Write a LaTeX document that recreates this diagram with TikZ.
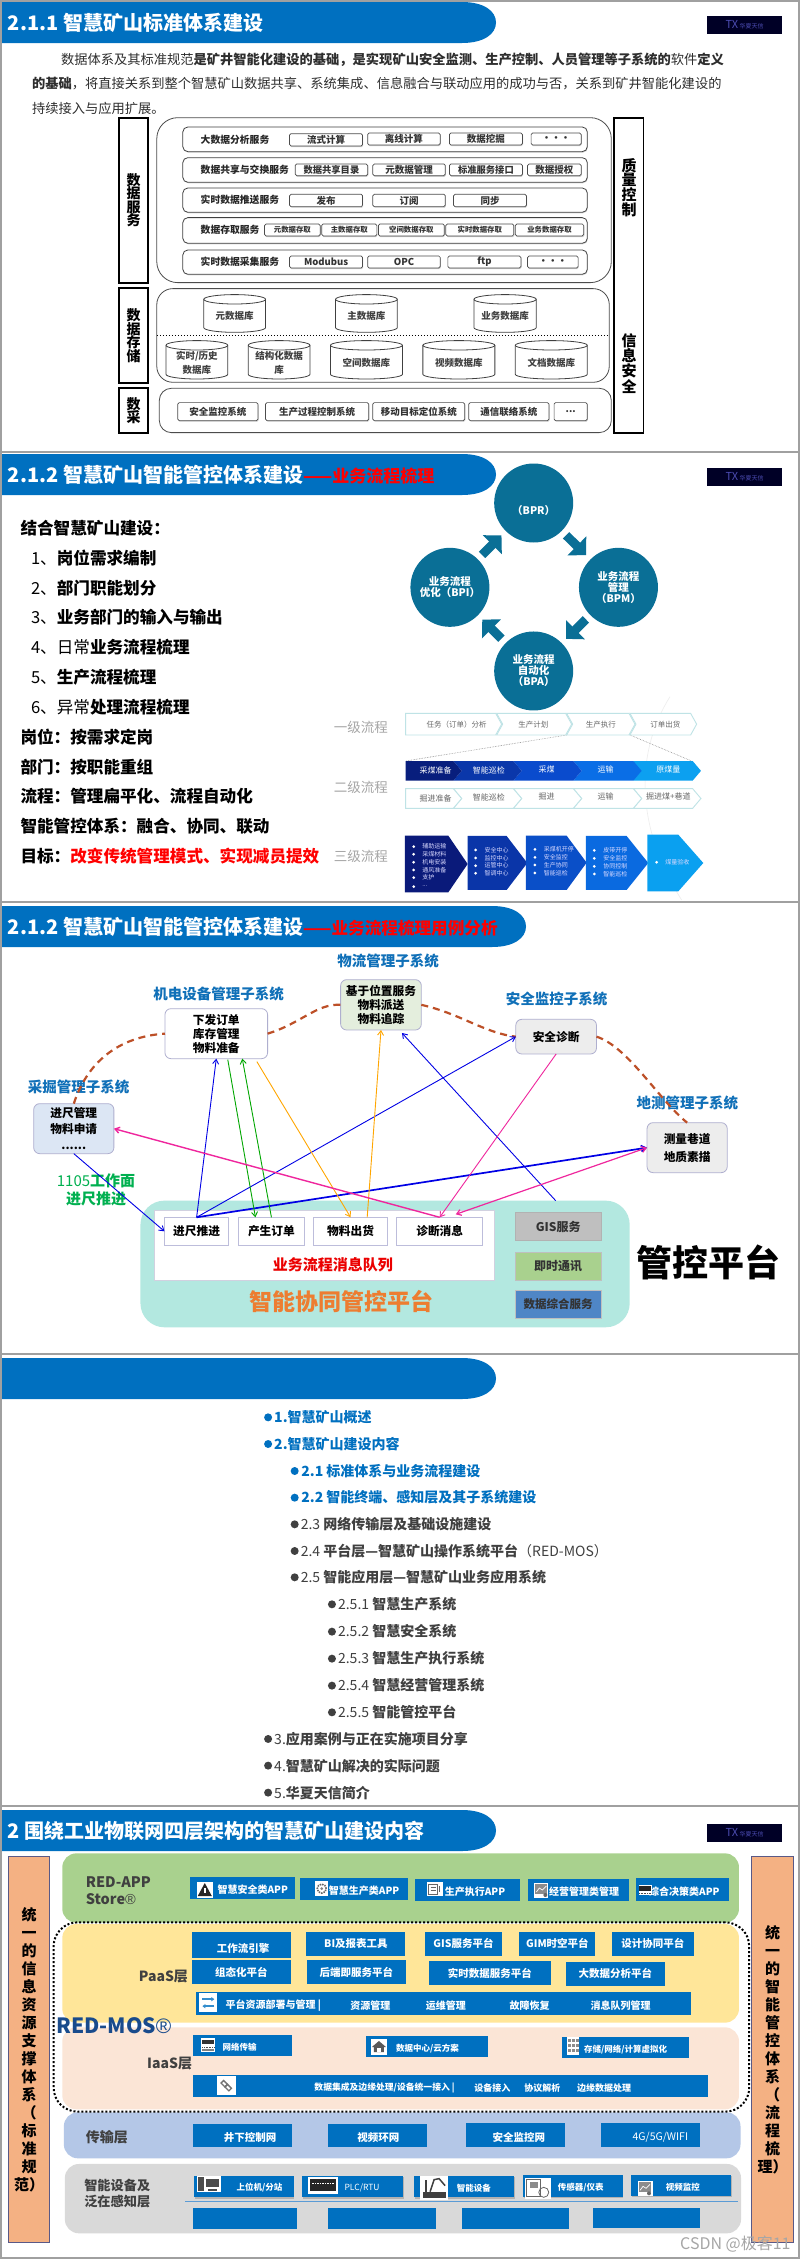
\documentclass[tikz,border=0pt]{standalone}
\usepackage{fontspec}
\setmainfont{Noto Sans CJK SC}
\newfontfamily\regf{Liberation Sans}
\usetikzlibrary{arrows.meta,shapes.geometric,shadows,calc}
\definecolor{bann}{HTML}{0070C0}
\definecolor{teal1}{HTML}{0A6F96}
\definecolor{lblblue}{HTML}{1070B8}
\definecolor{frameg}{HTML}{A0A0A0}
\definecolor{flowb}{HTML}{BFE3E6}
\newcommand\fs[2]{\fontsize{#1}{#2}\selectfont}
\newcommand\regm{{\regf\mdseries ®}}
\newcounter{nn}
\def\sx{0.5107}\def\sy{0.3333}
% box from corner to corner, in the scope's coordinates
\newcommand\bx[6][]{\stepcounter{nn}%
 \pgfmathsetmacro\bw{abs(#4-#2)*\sx}\pgfmathsetmacro\bh{abs(#5-#3)*\sy}%
 \node[name=n\thenn,minimum width=\bw pt,minimum height=\bh pt,inner sep=0pt,outer sep=0pt,align=center,#1] at ({(#2+#4)/2},{(#3+#5)/2}) {#6};}
\newcommand\tx[4][]{\stepcounter{nn}\node[name=n\thenn,inner sep=0pt,outer sep=0pt,align=center,#1] at (#2,#3) {#4};}
% cylinder drawn directly, with its text as a node
\newcommand\cyl[5]{\pgfmathsetmacro\crx{(#3-#1)/2*\sx}%
 \path[draw=black!75,line width=.8pt,fill=white] (#1,#2+14) -- (#1,#4-14) arc[start angle=180,end angle=360,x radius=\crx pt,y radius=4.7pt] -- (#3,#2+14) arc[start angle=0,end angle=180,x radius=\crx pt,y radius=4.7pt] -- cycle;
 \draw[black!75,line width=.8pt] (#1,#2+14) arc[start angle=180,end angle=360,x radius=\crx pt,y radius=4.7pt];
 \tx[font=\fs{9.5}{14}\bfseries,text=black!75]{{(#1+#3)/2}}{{(#2+#4)/2+8}}{#5}}
% banner in px
\newcommand\banner[4]{\fill[bann] (1,#1)--(#3-34,#1) .. controls (#3-12,#1) and (#3,#1+9) .. (#3,{(#1+#2)/2}) .. controls (#3,#2-9) and (#3-12,#2) .. (#3-34,#2)--(1,#2)--cycle;
 \tx[anchor=west,text=white,font=\fs{20}{24}\bfseries]{8}{{(#1+#2)/2}}{#4}}
\newcommand\logo[1]{\stepcounter{nn}\node[name=n\thenn,fill=black!85!blue,minimum width=75pt,minimum height=18pt,inner sep=0pt,text=blue!40!gray,font=\fs{6}{6}] at (744.5,#1) {\textit{\fs{11}{11}TX}\ 华夏天信};}
% chevron; notch depth #5, point depth #6
\newcommand\chev[7]{\path[#7] (#1,#3)--(#2-#6,#3)--(#2,{(#3+#4)/2})--(#2-#6,#4)--(#1,#4)--(#1+#5,{(#3+#4)/2})--cycle;}
% small pictogram, local px units
\newcommand\ico[5]{\begin{scope}[shift={(#1,#2)},x=1pt,y=-1pt]\fill[white] ({-#3/2},{-#4/2}) rectangle ({#3/2},{#4/2});#5\end{scope}}
\tikzset{
 blk/.style={draw=black,line width=1.8pt,fill=white,font=\fs{14}{13.5}\bfseries},
 bigr/.style={draw=black!70,line width=.8pt,rounded corners=21pt},
 rowr/.style={draw=black!75,line width=.8pt,fill=white,rounded corners=5pt,drop shadow={shadow xshift=.6pt,shadow yshift=-1pt,fill=black!30}},
 chip/.style={draw=black!70,line width=.7pt,fill=white,rounded corners=1.5pt,font=\fs{9.5}{11}\bfseries,text=black!80,drop shadow={shadow xshift=.6pt,shadow yshift=-1.2pt,fill=black!35}},
 lay/.style={rounded corners=14pt},
 btn/.style={fill=bann,text=white,font=\fs{10.5}{12}\bfseries},
 sbtn/.style={fill=bann,text=white,drop shadow={shadow xshift=.8pt,shadow yshift=-1.2pt,fill=black!45}},
 sub/.style={font=\fs{14.5}{17}\bfseries,text=lblblue},
 subsys/.style={draw=blue!25!gray!50,line width=.8pt,rounded corners=6pt,font=\fs{11.7}{14}\bfseries},
 msg/.style={draw=blue!30!gray!40,line width=.9pt,fill=white,font=\fs{11.7}{14}\bfseries},
 svc/.style={font=\fs{12}{14}\bfseries,text=black!80},
 barb/.style={-{Straight Barb[length=4.5pt,width=6pt]},line width=.9pt},
 dashbrown/.style={draw=brown!70!red!90!black,line width=2.2pt,dash pattern=on 7pt off 5pt},
 blist/.style={anchor=west,font=\fs{14}{16}\bfseries,text=bann},
 glist/.style={anchor=west,font=\fs{14}{16},text=black!75},
 chw/.style={draw=flowb,line width=.9pt,fill=white},
 flab/.style={font=\fs{7.5}{9},text=black!60},
 fwhite/.style={font=\fs{8}{9},text=white},
 flvl/.style={font=\fs{13.5}{15},text=black!35},
 lbul/.style={font=\fs{6}{7},text=white!85!blue,anchor=west},
 bodyt/.style={anchor=west,font=\fs{13.26}{16},text=black!82},
 listt/.style={anchor=west,font=\fs{16.6}{20}\bfseries,text=black},
 zs/.style={yshift=-#1pt,x=0.5107pt,y=-0.3333pt},
 circ/.style={circle,fill=teal1,minimum size=79pt,inner sep=0pt,text=white,align=center,font=\fs{10.5}{11}\bfseries},
 barrow/.style={draw=teal1,line width=9pt,shorten <=6pt,shorten >=6pt,-{Triangle[length=13pt,width=26pt]}},
}
\begin{document}
\begin{tikzpicture}[x=1pt,y=-1pt]
\useasboundingbox (0,0) rectangle (800,2259);
\fill[white] (0,0) rectangle (800,2259);

% ================ panel 1
\banner{2}{43}{496}{2.1.1 智慧矿山标准体系建设}
\logo{25}
\tx[bodyt]{61}{60}{数据体系及其标准规范\textbf{是矿井智能化建设的基础，是实现矿山安全监测、生产控制、人员管理等子系统的}软件\textbf{定义}}
\tx[bodyt]{32}{84}{\textbf{的基础}，将直接关系到整个智慧矿山数据共享、系统集成、信息融合与联动应用的成功与否，关系到矿井智能化建设的}
\tx[bodyt]{32}{108}{持续接入与应用扩展。}
\begin{scope}[zs=0]
\bx[blk]{233}{353}{290}{848}{数\\据\\服\\务}
\bx[blk]{233}{865}{290}{1148}{数\\据\\存\\储}
\bx[blk]{233}{1165}{290}{1298}{数\\采}
\bx[blk]{1203}{353}{1260}{1298}{}
\tx[font=\fs{15}{13.5}\bfseries]{1232}{563}{质\\量\\控\\制}
\tx[font=\fs{15}{13.5}\bfseries]{1232}{1090}{信\\息\\安\\全}
\bx[bigr]{307}{353}{1197}{848}{}
\bx[bigr,rounded corners=16pt]{307}{866}{1193}{1147}{}
\bx[bigr,rounded corners=12pt]{312}{1165}{1197}{1298}{}
\draw[line width=1pt,dotted] (307,1007)--(1193,1007);
\bx[rowr]{358}{381}{1150}{455}{}
\bx[rowr]{358}{473}{1150}{547}{}
\bx[rowr]{358}{564}{1150}{637}{}
\bx[rowr]{358}{653}{1150}{730}{}
\bx[rowr]{358}{750}{1150}{823}{}
\def\rl#1#2{\tx[anchor=west,font=\fs{9.8}{11}\bfseries,text=black!85]{393}{#1}{#2}}
\rl{418}{大数据分析服务}\rl{510}{数据共享与交换服务}\rl{600}{实时数据推送服务}\rl{690}{数据存取服务}\rl{786}{实时数据采集服务}
\bx[chip]{567}{401}{710}{438}{流式计算}
\bx[chip]{720}{399}{862}{435}{离线计算}
\bx[chip]{880}{399}{1023}{435}{数据挖掘}
\bx[chip]{1040}{399}{1138}{435}{•••}
\bx[chip,font=\fs{9.3}{11}\bfseries]{578}{492}{720}{527}{数据共享目录}
\bx[chip]{730}{492}{872}{527}{元数据管理}
\bx[chip,font=\fs{9.3}{11}\bfseries]{880}{492}{1023}{527}{标准服务接口}
\bx[chip]{1033}{492}{1138}{527}{数据授权}
\bx[chip]{567}{583}{710}{620}{发布}
\bx[chip]{730}{583}{872}{620}{订阅}
\bx[chip]{888}{583}{1031}{620}{同步}
\bx[chip,font=\fs{7.4}{9}\bfseries]{518}{672}{627}{708}{元数据存取}
\bx[chip,font=\fs{7.4}{9}\bfseries]{630}{672}{738}{708}{主数据存取}
\bx[chip,font=\fs{7.4}{9}\bfseries]{741}{672}{870}{708}{空间数据存取}
\bx[chip,font=\fs{7.4}{9}\bfseries]{873}{672}{1006}{708}{实时数据存取}
\bx[chip,font=\fs{7.4}{9}\bfseries]{1009}{672}{1143}{708}{业务数据存取}
\bx[chip]{567}{768}{710}{804}{Modubus}
\bx[chip]{720}{768}{862}{804}{OPC}
\bx[chip]{877}{768}{1020}{804}{ftp}
\bx[chip]{1033}{768}{1132}{804}{•••}
\cyl{399}{884}{520}{997}{元数据库}
\cyl{657}{884}{778}{997}{主数据库}
\cyl{928}{884}{1050}{997}{业务数据库}
\cyl{325}{1022}{446}{1137}{实时/历史\\数据库}
\cyl{486}{1022}{607}{1137}{结构化数据\\库}
\cyl{647}{1022}{788}{1137}{空间数据库}
\cyl{828}{1022}{969}{1137}{视频数据库}
\cyl{1009}{1022}{1150}{1137}{文档数据库}
\bx[chip]{348}{1208}{505}{1262}{安全监控系统}
\bx[chip]{520}{1208}{722}{1262}{生产过程控制系统}
\bx[chip]{730}{1208}{910}{1262}{移动目标定位系统}
\bx[chip]{918}{1208}{1075}{1262}{通信联络系统}
\bx[chip]{1085}{1208}{1150}{1262}{...}
\end{scope}

% ================ panel 2
\banner{454}{495}{496}{2.1.2 智慧矿山智能管控体系建设{\color{red}\fs{17}{20}——业务流程梳理}}
\logo{477}
\def\ll#1#2#3{\tx[listt]{#1}{#2}{#3}}
\ll{20.5}{528}{结合智慧矿山建设：}
\ll{31}{558}{\mdseries 1、\bfseries 岗位需求编制}
\ll{31}{588}{\mdseries 2、\bfseries 部门职能划分}
\ll{31}{617}{\mdseries 3、\bfseries 业务部门的输入与输出}
\ll{31}{647}{\mdseries 4、日常\bfseries 业务流程梳理}
\ll{31}{677}{\mdseries 5、\bfseries 生产流程梳理}
\ll{31}{707}{\mdseries 6、异常\bfseries 处理流程梳理}
\ll{20.5}{737}{岗位：按需求定岗}
\ll{20.5}{767}{部门：按职能重组}
\ll{20.5}{796}{流程：管理扁平化、流程自动化}
\ll{20.5}{826}{智能管控体系：融合、协同、联动}
\ll{20.5}{856}{目标：{\color{red}改变传统管理模式、实现减员提效}}
\begin{scope}[zs=450]
\node[circ,name=bpr] at (1045,159) {\\[14pt]（BPR）};
\node[circ,name=bpm] at (1211,412) {业务流程\\管理\\（BPM）};
\node[circ,name=bpa] at (1045,663) {业务流程\\自动化\\（BPA）};
\node[circ,name=bpi] at (881,412) {业务流程\\优化（BPI）};
\draw[barrow] (bpr)--(bpm);
\draw[barrow] (bpm)--(bpa);
\draw[barrow] (bpa)--(bpi);
\draw[barrow] (bpi)--(bpr);
\end{scope}
\begin{scope}[yshift=-690pt,xshift=320pt,x=0.3333pt,y=-0.3333pt]
\def\sx{0.3333}
\draw[black!7,line width=.6pt] (1050,20) .. controls (950,180) and (940,400) .. (1085,630);
\tx[flvl]{123}{112}{一级流程}
\tx[flvl]{123}{292}{二级流程}
\tx[flvl]{123}{500}{三级流程}
\draw[black!45,densely dotted,line width=.6pt] (740,135)--(257,213);
\draw[black!45,densely dotted,line width=.6pt] (930,135)--(1115,213);
\chev{930}{1130}{70}{135}{18}{18}{chw}
\chev{740}{945}{70}{135}{18}{18}{chw}
\chev{530}{755}{70}{135}{18}{18}{chw}
\chev{257}{545}{70}{135}{0}{18}{chw}
\tx[flab]{410}{103}{任务（订单）分析}
\tx[flab]{640}{103}{生产计划}
\tx[flab]{843}{103}{生产执行}
\tx[flab]{1036}{103}{订单出货}
\chev{940}{1143}{213}{272}{0}{25}{fill={rgb,255:red,12;green,160;blue,240}}
\chev{760}{965}{213}{272}{25}{25}{fill={rgb,255:red,10;green,110;blue,230}}
\chev{580}{785}{213}{272}{25}{25}{fill={rgb,255:red,10;green,75;blue,205}}
\chev{400}{605}{213}{272}{25}{25}{fill={rgb,255:red,10;green,55;blue,170}}
\chev{257}{425}{213}{272}{0}{25}{fill={rgb,255:red,8;green,30;blue,125}}
\tx[fwhite]{347}{241}{采煤准备}
\tx[fwhite]{507}{240}{智能巡检}
\tx[fwhite]{680}{238}{采煤}
\tx[fwhite]{857}{238}{运输}
\tx[fwhite]{1045}{237}{原煤量}
\chev{940}{1143}{296}{355}{25}{25}{chw}
\chev{760}{965}{296}{355}{25}{25}{chw}
\chev{580}{785}{296}{355}{25}{25}{chw}
\chev{400}{605}{296}{355}{25}{25}{chw}
\chev{257}{425}{296}{355}{0}{25}{chw}
\tx[flab,font=\fs{8}{9}]{347}{324}{掘进准备}
\tx[flab,font=\fs{8}{9}]{507}{322}{智能巡检}
\tx[flab,font=\fs{8}{9}]{680}{320}{掘进}
\tx[flab,font=\fs{8}{9}]{857}{320}{运输}
\tx[flab,font=\fs{8}{9}]{1045}{319}{掘进煤+巷道}
\path[fill={rgb,255:red,10;green,26;blue,122}] (255,437)--(385,437)--(443,522)--(385,607)--(255,607)--cycle;
\path[fill={rgb,255:red,10;green,53;blue,168}] (443,438)--(560,438)--(622,519)--(560,600)--(443,600)--cycle;
\path[fill={rgb,255:red,10;green,79;blue,200}] (618,437)--(740,437)--(800,518)--(740,600)--(618,600)--cycle;
\path[fill={rgb,255:red,10;green,106;blue,224}] (798,438)--(920,438)--(985,519)--(920,600)--(798,600)--cycle;
\path[fill={rgb,255:red,10;green,160;blue,240}] (982,434)--(1075,434)--(1150,519)--(1075,604)--(982,604)--cycle;
\def\lit#1#2#3#4{\fill[white] (#1,#3) circle[radius=1.5pt];\tx[lbul]{#2}{#3}{#4}}
\lit{281}{307}{470}{辅助运输}\lit{281}{307}{493}{采煤材料}\lit{281}{307}{517}{机电安装}\lit{281}{307}{540}{通风准备}\lit{281}{307}{563}{支护}\lit{281}{307}{590}{...}
\lit{467}{494}{480}{安全中心}\lit{467}{494}{504}{监控中心}\lit{467}{494}{527}{运管中心}\lit{467}{494}{550}{智调中心}
\lit{645}{672}{478}{采煤机开停}\lit{645}{672}{502}{安全监控}\lit{645}{672}{525}{生产协同}\lit{645}{672}{549}{智能巡检}
\lit{823}{850}{481}{皮带开停}\lit{823}{850}{505}{安全监控}\lit{823}{850}{529}{协同控制}\lit{823}{850}{552}{智能巡检}
\lit{1010}{1036}{517}{煤量验收}
\def\sx{0.5107}
\end{scope}

% ================ panel 3
\banner{906}{947}{526}{2.1.2 智慧矿山智能管控体系建设{\color{red}\fs{16.6}{20}——业务流程梳理用例分析}}
\begin{scope}[zs=900]
\tx[sub]{760}{183}{物流管理子系统}
\tx[sub]{428}{282}{机电设备管理子系统}
\tx[sub]{1090}{298}{安全监控子系统}
\tx[sub]{154}{562}{采掘管理子系统}
\tx[sub]{1346}{608}{地测管理子系统}
\bx[name=pf,fill={rgb,255:red,179;green,232;blue,224},rounded corners=24pt]{275}{902}{1233}{1282}{}
\bx[fill=white,draw=blue!20!gray!30,line width=.8pt]{303}{932}{968}{1142}{}
\bx[subsys,name=jd,fill=white]{323}{326}{524}{476}{下发订单\\库存管理\\物料准备}
\bx[subsys,name=wl,fill={rgb,255:red,228;green,238;blue,221}]{667}{239}{825}{390}{基于位置服务\\物料派送\\物料追踪}
\bx[subsys,name=aq,fill=black!7]{1010}{358}{1168}{462}{安全诊断}
\bx[subsys,name=cj,fill={rgb,255:red,220;green,230;blue,244},font=\fs{11.7}{16}\bfseries]{66}{611}{223}{761}{进尺管理\\物料申请\\......}
\bx[subsys,name=dc,fill=black!7,font=\fs{11.7}{18}\bfseries]{1267}{668}{1424}{818}{测量巷道\\地质素描}
\bx[msg,name=jc]{322}{952}{448}{1036}{进尺推进}
\bx[msg,name=cs]{467}{952}{596}{1036}{产生订单}
\bx[msg,name=wc]{614}{952}{759}{1036}{物料出货}
\bx[msg,name=zd]{777}{952}{945}{1036}{诊断消息}
\tx[font=\fs{15}{17}\bfseries,text=red!92!black]{652}{1093}{业务流程消息队列}
\tx[font=\fs{23}{26}\bfseries,text={rgb,255:red,237;green,125;blue,49}]{668}{1205}{智能协同管控平台}
\bx[svc,fill=black!25,draw=black!30]{1009}{938}{1177}{1022}{GIS服务}
\bx[svc,fill={rgb,255:red,169;green,209;blue,142},draw=black!25]{1009}{1056}{1177}{1140}{即时通讯}
\bx[svc,fill={rgb,255:red,79;green,134;blue,198},draw=black!25,font=\fs{11.5}{14}\bfseries]{1009}{1170}{1177}{1254}{数据综合服务}
\tx[font=\fs{36}{40}\bfseries]{1387}{1088}{管控平台}
\tx[font=\fs{15}{18}\bfseries,text={rgb,255:red,0;green,176;blue,80}]{188}{871}{{\mdseries 1105}工作面\\进尺推进}
% dashed arc
\draw[dashbrown] (cj.north) .. controls (170,490) and (230,410) .. (jd.west);
\draw[dashbrown] (jd.east) .. controls (590,370) and (620,310) .. (wl.west);
\draw[dashbrown] (wl.east) .. controls (900,340) and (950,400) .. (aq.west);
\draw[dashbrown] (aq.east) .. controls (1230,440) and (1290,600) .. (dc.north);
% arrows
\colorlet{ab}{blue!90!black}
\colorlet{ag}{green!65!black}
\colorlet{ay}{orange!70!yellow}
\colorlet{am}{magenta!85!white}
\draw[barb,ab] (cj.south)--(jc.west);
\draw[barb,ab] (jc.north)--(jd.south);
\draw[barb,ab] (jc.north)--(aq.west);
\draw[barb,ab,line width=1.7pt] (jc.north)--(dc.west);
\draw[barb,ab] ([xshift=170.6pt]pf.north)--([xshift=21pt,yshift=-3pt]wl.south);
\draw[barb,ag] ([xshift=11.5pt,yshift=-1pt]jd.south)--([xshift=-16pt]cs.north);
\draw[barb,ag] (cs.north)--([xshift=26pt]jd.south);
\draw[barb,ay] ([xshift=40.6pt,yshift=-3pt]jd.south)--(wc.north);
\draw[barb,ay] ([xshift=16.6pt]wc.north)--(wl.south);
\draw[barb,am,line width=1.4pt] (zd.north)--(cj.east);
\draw[barb,am] (aq.south)--(zd.north);
\draw[{Straight Barb[length=4.5pt,width=6pt]}-{Straight Barb[length=4.5pt,width=6pt]},am,line width=1.2pt] ([xshift=16pt,yshift=3pt]zd.north)--(dc.west);
\end{scope}

% ================ panel 4
\banner{1358}{1399}{496}{}
\begin{scope}[zs=1350]
\def\bl#1#2#3#4{\fill[#1] (#2,#3) circle[radius=4pt];}
\def\ea#1#2#3{\bl{bann}{525}{#1}{}\tx[blist]{#2}{#1}{#3}}
\def\eb#1#2#3{\bl{black!75}{#2}{#1}{}\tx[glist]{#2+12}{#1}{#3}}
\ea{202}{537}{1.智慧矿山概述}
\ea{282}{537}{2.智慧矿山建设内容}
\bl{bann}{577}{363}{}\tx[blist]{590}{363}{2.1 标准体系与业务流程建设}
\bl{bann}{577}{443}{}\tx[blist]{590}{443}{2.2 智能终端、感知层及其子系统建设}
\eb{523}{577}{\mdseries 2.3 \bfseries 网络传输层及基础设施建设}
\eb{603}{577}{\mdseries 2.4 \bfseries 平台层—智慧矿山操作系统平台\mdseries（RED-MOS）}
\eb{682}{577}{\mdseries 2.5 \bfseries 智能应用层—智慧矿山业务应用系统}
\eb{763}{650}{\mdseries 2.5.1 \bfseries 智慧生产系统}
\eb{845}{650}{\mdseries 2.5.2 \bfseries 智慧安全系统}
\eb{926}{650}{\mdseries 2.5.3 \bfseries 智慧生产执行系统}
\eb{1007}{650}{\mdseries 2.5.4 \bfseries 智慧经营管理系统}
\eb{1087}{650}{\mdseries 2.5.5 \bfseries 智能管控平台}
\eb{1167}{525}{\mdseries 3.\bfseries 应用案例与正在实施项目分享}
\eb{1247}{525}{\mdseries 4.\bfseries 智慧矿山解决的实际问题}
\eb{1328}{525}{\mdseries 5.\bfseries 华夏天信简介}
\end{scope}

% ================ panel 5
\banner{1810}{1851}{496}{2 围绕工业物联网四层架构的智慧矿山建设内容}
\logo{1833}
\begin{scope}[zs=1800]
\colorlet{dg}{black!75}
\bx[fill={rgb,255:red,244;green,177;blue,131},draw=black!40!blue!30!gray,line width=.8pt]{16}{170}{97}{1328}{}
\bx[fill={rgb,255:red,244;green,177;blue,131},draw=black!40!blue!30!gray,line width=.8pt]{1472}{170}{1553}{1328}{}
\tx[anchor=north,font=\fs{15}{18}\bfseries]{57}{322}{统\\一\\的\\信\\息\\资\\源\\支\\撑\\体\\系\\（\\标\\准\\规\\范）}
\tx[anchor=north,font=\fs{15}{18}\bfseries]{1513}{375}{统\\一\\的\\智\\能\\管\\控\\体\\系\\（\\流\\程\\梳\\理）}
\bx[lay,fill={rgb,255:red,169;green,209;blue,142}]{122}{160}{1447}{368}{}
\bx[lay,fill={rgb,255:red,255;green,230;blue,153}]{122}{372}{1447}{668}{}
\bx[lay,fill={rgb,255:red,251;green,229;blue,214}]{122}{682}{1447}{928}{}
\bx[lay,fill={rgb,255:red,180;green,199;blue,231}]{125}{937}{1450}{1075}{}
\bx[lay,fill=black!15]{127}{1092}{1451}{1300}{}
\bx[draw=black,line width=2pt,dotted,rounded corners=24pt]{105}{367}{1467}{935}{}
\tx[anchor=west,font=\fs{14.5}{17}\bfseries,text=dg,align=left]{168}{272}{RED-APP\\Store\regm}
\tx[anchor=east,font=\fs{14}{16}\bfseries,text=dg]{368}{530}{PaaS层}
\tx[anchor=west,font=\fs{21}{24}\bfseries,text={rgb,255:red,25;green,75;blue,140}]{110}{678}{RED-MOS\regm}
\tx[anchor=east,font=\fs{14}{16}\bfseries,text=dg]{376}{790}{IaaS层}
\tx[anchor=west,font=\fs{14}{16}\bfseries,text=dg]{168}{1013}{传输层}
\tx[anchor=west,font=\fs{13.2}{16}\bfseries,text=dg,align=left]{165}{1182}{智能设备及\\泛在感知层}
% APP row
\bx[btn]{373}{232}{577}{298}{}\tx[text=white,font=\fs{10}{12}\bfseries]{495}{270}{智慧安全类APP}
\bx[btn]{587}{233}{799}{300}{}\tx[text=white,font=\fs{10}{12}\bfseries]{713}{272}{智慧生产类APP}
\bx[btn]{812}{236}{1019}{302}{}\tx[text=white,font=\fs{10}{12}\bfseries]{930}{275}{生产执行APP}
\bx[btn]{1033}{236}{1232}{302}{}\tx[text=white,font=\fs{10}{12}\bfseries]{1144}{276}{经营管理类管理}
\bx[btn]{1246}{235}{1427}{302}{}\tx[text=white,font=\fs{10}{12}\bfseries]{1340}{274}{综合决策类APP}
\ico{401}{270}{16}{16}{\fill[black!85] (0,-7)--(7,6)--(-7,6)--cycle;\fill[white] (-.8,-2) rectangle (.8,3);}
\ico{630}{266}{13}{15}{\draw[black!60,line width=1.6pt,dash pattern=on 1.5pt off 1pt] (0,0) circle[radius=4.5pt];\fill[black!50] (0,0) circle[radius=1.5pt];}
\ico{851}{268}{16}{14}{\draw[black!60,line width=.7pt] (-6,-5) rectangle (3,5);\draw[black!60,line width=.7pt] (-4,-2)--(1,-2) (-4,1)--(1,1) (5,-3)--(5,3);}
\ico{1060}{270}{14}{15}{\fill[black!45] (-6,-6) rectangle (6,4);\draw[white,line width=.7pt] (-5,2)--(-2,-2)--(1,0)--(5,-4);\fill[black!60] (4,5) circle[radius=2pt];}
\ico{1263}{270}{13}{10}{\fill[black!85] (-6,-4) rectangle (6,1);\draw[black!70,line width=1pt,dash pattern=on 1pt off .6pt] (-6,3)--(6,3);}
% PaaS
\bx[btn]{375}{395}{570}{475}{}\tx[text=white,font=\fs{10.5}{12}\bfseries]{476}{445}{工作流引擎}
\bx[btn]{600}{395}{794}{467}{BI及报表工具}
\bx[btn]{833}{395}{982}{467}{GIS服务平台}
\bx[btn]{1017}{395}{1166}{467}{GIM时空平台}
\bx[btn]{1198}{395}{1359}{467}{设计协同平台}
\bx[btn]{375}{481}{570}{553}{组态化平台}
\bx[btn]{601}{481}{795}{553}{后端即服务平台}
\bx[btn]{840}{484}{1078}{555}{实时数据服务平台}
\bx[btn]{1108}{486}{1302}{557}{大数据分析平台}
\bx[btn]{383}{575}{1353}{646}{}
\ico{408}{608}{18}{19}{\draw[bann!80!white,line width=1.4pt,-{Triangle[length=3pt,width=4pt]}] (-6,-3.5)--(6,-3.5);\draw[bann!80!white,line width=1.4pt,-{Triangle[length=3pt,width=4pt]}] (6,3.5)--(-6,3.5);}
\tx[text=white,font=\fs{10}{12}\bfseries]{535}{617}{平台资源部署与管理 |}
\tx[text=white,font=\fs{10}{12}\bfseries]{725}{617}{资源管理}
\tx[text=white,font=\fs{10}{12}\bfseries]{873}{617}{运维管理}
\tx[text=white,font=\fs{10}{12}\bfseries]{1037}{617}{故障恢复}
\tx[text=white,font=\fs{10}{12}\bfseries]{1215}{617}{消息队列管理}
% IaaS
\bx[btn]{377}{704}{572}{767}{}\tx[text=white,font=\fs{8.5}{10}\bfseries]{469}{741}{网络传输}
\bx[btn]{716}{708}{956}{771}{}\tx[text=white,font=\fs{8.5}{10}\bfseries]{837}{746}{数据中心/云方案}
\bx[btn]{1100}{710}{1350}{773}{}\tx[text=white,font=\fs{8.5}{10}\bfseries]{1225}{748}{存储/网络/计算虚拟化}
\ico{408}{736}{14}{14}{\fill[black!80] (-6,-5) rectangle (6,-1);\draw[black!70,line width=1pt,dash pattern=on 1pt off .6pt] (-6,2)--(6,2);\fill[black!50] (-6,4) rectangle (6,6);}
\ico{742}{741}{16}{16}{\fill[black!65] (0,-6)--(7,0)--(5,0)--(5,5)--(-5,5)--(-5,0)--(-7,0)--cycle;\fill[white] (-2,1) rectangle (2,5);}
\ico{1122}{738}{12}{18}{\foreach \u in {-4,0,4}{\foreach \v in {-7,-2,3}{\fill[black!45] (\u-1.5,\v) rectangle (\u+1.5,\v+3);}}}
\bx[btn]{377}{824}{1386}{891}{}
\ico{443}{857}{19}{19}{\draw[black!55,line width=1.3pt,rotate=-45] (-5.5,-1.8) rectangle (0,1.8);\draw[black!55,line width=1.3pt,rotate=-45] (0,-1.8) rectangle (5.5,1.8);}
\tx[text=white,font=\fs{8.8}{10}\bfseries]{753}{864}{数据集成及边缘处理/设备统一接入 |}
\tx[text=white,font=\fs{9}{10}\bfseries]{964}{864}{设备接入}
\tx[text=white,font=\fs{9}{10}\bfseries]{1062}{864}{协议解析}
\tx[text=white,font=\fs{9}{10}\bfseries]{1183}{864}{边缘数据处理}
% transport
\bx[btn]{378}{971}{572}{1042}{}\tx[text=white,font=\fs{10.5}{12}\bfseries]{490}{1014}{井下控制网}
\bx[btn]{642}{971}{836}{1042}{}\tx[text=white,font=\fs{10.5}{12}\bfseries]{741}{1014}{视频环网}
\bx[btn]{912}{970}{1107}{1041}{}\tx[text=white,font=\fs{10.5}{12}\bfseries]{1016}{1012}{安全监控网}
\bx[btn]{1177}{969}{1371}{1040}{}\tx[text=white,font=\fs{10.5}{12}]{1293}{1012}{4G/5G/WIFI}
% devices
\bx[sbtn]{380}{1128}{575}{1192}{}\tx[text=white,font=\fs{8.5}{10}\bfseries]{508}{1164}{上位机/分站}
\bx[sbtn]{591}{1127}{790}{1192}{}\tx[text=white,font=\fs{8.5}{10}]{709}{1164}{PLC/RTU}
\bx[sbtn]{811}{1127}{1006}{1192}{}\tx[text=white,font=\fs{8.5}{10}\bfseries]{928}{1165}{智能设备}
\bx[sbtn]{1024}{1125}{1219}{1190}{}\tx[text=white,font=\fs{8.5}{10}\bfseries]{1137}{1162}{传感器/仪表}
\bx[sbtn]{1236}{1124}{1431}{1187}{}\tx[text=white,font=\fs{8.5}{10}\bfseries]{1337}{1161}{视频监控}
\draw[line width=.9pt,color={rgb,255:red,91;green,155;blue,213}] (363,1205)--(1445,1205);
\ico{410}{1153}{24}{16}{\fill[black!70] (-11,-7) rectangle (-5,7);\fill[black!70] (-3,-5) rectangle (10,3);\fill[black!70] (-1,5) rectangle (8,6.5);}
\ico{633}{1156}{30}{17}{\fill[black!85] (-13,-6) rectangle (13,6);\draw[white,line width=1.6pt,dash pattern=on 1.5pt off 1pt] (-11,-2)--(11,-2);}
\ico{850}{1163}{28}{24}{\fill[black!75] (-11,4) rectangle (12,10);\draw[black!75,line width=1.5pt] (-4,4)--(0,-8)--(5,-9)--(11,-2);\draw[black!75,line width=1.2pt] (-8,4)--(-8,-8);}
\ico{1053}{1165}{26}{21}{\draw[black!60,line width=.8pt] (-11,-9) rectangle (3,8);\fill[black!45] (-8,-6) rectangle (0,0);\draw[black!60,line width=.8pt] (6,4) circle[radius=5pt];}
\ico{1263}{1165}{15}{15}{\fill[black!45] (-6,-6) rectangle (6,4);\draw[white,line width=.7pt] (-5,2)--(-2,-2)--(1,0)--(5,-4);\fill[black!60] (4,5) circle[radius=2pt];}
\bx[fill=bann]{377}{1225}{582}{1287}{}
\bx[fill=bann]{643}{1225}{853}{1287}{}
\bx[fill=bann]{904}{1224}{1114}{1286}{}
\bx[fill=bann]{1161}{1223}{1371}{1285}{}
\tx[font=\fs{16}{18}\mdseries,text=black!35]{1440}{1332}{CSDN @极客11}
\end{scope}

% ================ frames
\draw[frameg,line width=2pt] (1,0)--(1,2259) (799,0)--(799,2259);
\draw[frameg,line width=2.4pt] (0,1)--(800,1) (0,452)--(800,452) (0,902)--(800,902) (0,1354)--(800,1354) (0,1806)--(800,1806) (0,2258)--(800,2258);
\end{tikzpicture}
\end{document}
